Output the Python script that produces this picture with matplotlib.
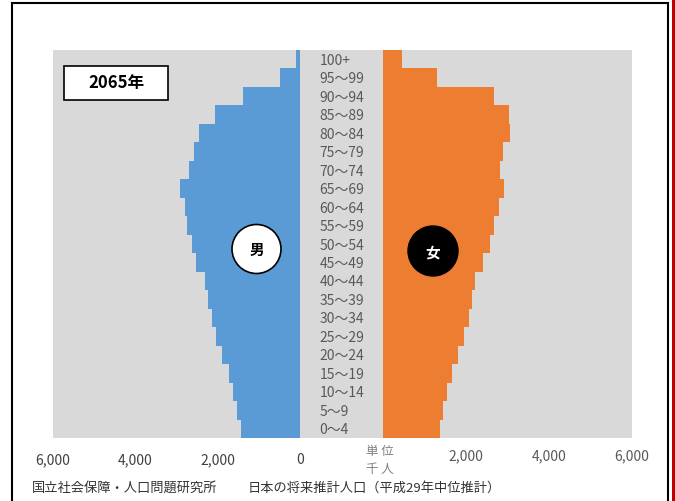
import matplotlib
matplotlib.use("Agg")
import matplotlib.pyplot as plt
from matplotlib.patches import Rectangle, Ellipse
import numpy as np

plt.rcParams['font.family'] = ['Noto Sans CJK JP', 'DejaVu Sans']

ages = ["0〜4", "5〜9", "10〜14", "15〜19", "20〜24", "25〜29", "30〜34", "35〜39",
        "40〜44", "45〜49", "50〜54", "55〜59", "60〜64", "65〜69", "70〜74", "75〜79",
        "80〜84", "85〜89", "90〜94", "95〜99", "100+"]
male = [1441, 1538, 1620, 1732, 1887, 2048, 2145, 2227, 2307, 2518, 2630, 2752,
        2800, 2907, 2690, 2567, 2447, 2065, 1385, 486, 100]
female = [1384, 1450, 1547, 1668, 1814, 1951, 2065, 2137, 2218, 2421, 2567, 2680,
          2793, 2915, 2825, 2890, 3068, 3029, 2664, 1310, 460]
left_ticks = [6000, 4000, 2000, 0]
right_ticks = [2000, 4000, 6000]

W, H = 675, 501
fig = plt.figure(figsize=(W / 100, H / 100), dpi=100)

def fx(px):
    return px / W

def fy(py):
    return 1 - py / H

GRAY = "#d9d9d9"
BLUE = "#5b9bd5"
ORANGE = "#ed7d31"

# frame
fig.add_artist(plt.Line2D([fx(12), fx(12)], [fy(3), 0], transform=fig.transFigure, color="black", lw=1.5))
fig.add_artist(plt.Line2D([fx(12), fx(668)], [fy(3), fy(3)], transform=fig.transFigure, color="black", lw=1.5))
fig.add_artist(plt.Line2D([fx(668), fx(668)], [fy(3), 0], transform=fig.transFigure, color="black", lw=1.5))
fig.add_artist(Rectangle((fx(672), 0), fx(3), 1, transform=fig.transFigure, color="#c00000", lw=0))

# center gray strip
fig.add_artist(Rectangle((fx(299), fy(438)), fx(85), (438 - 50) / H,
                         transform=fig.transFigure, facecolor=GRAY, edgecolor="none", zorder=0))

y = np.arange(len(ages))

axL = fig.add_axes([fx(53), fy(438), fx(247), (438 - 50) / H])
axL.set_facecolor(GRAY)
axL.barh(y, male, height=1.0, color=BLUE, edgecolor="none")
axL.set_xlim(6000, 0)
axL.set_ylim(-0.5, len(ages) - 0.5)
axL.set_xticks(left_ticks)
axL.set_xticklabels([f"{v:,}" for v in left_ticks])
axL.yaxis.tick_right()
axL.set_yticks(y)
axL.set_yticklabels(ages)
for lab in axL.get_yticklabels():
    lab.set_horizontalalignment("left")
axL.tick_params(axis="y", length=0, pad=14, labelsize=10, labelcolor="#595959")
axL.tick_params(axis="x", length=0, pad=11, labelsize=10, labelcolor="#404040")
for s in axL.spines.values():
    s.set_visible(False)

axR = fig.add_axes([fx(383), fy(438), fx(249), (438 - 50) / H])
axR.set_facecolor(GRAY)
axR.barh(y, female, height=1.0, color=ORANGE, edgecolor="none")
axR.set_xlim(0, 6000)
axR.set_ylim(-0.5, len(ages) - 0.5)
axR.set_xticks(right_ticks)
axR.set_xticklabels([f"{v:,}" for v in right_ticks])
axR.set_yticks([])
axR.tick_params(axis="x", length=0, pad=8, labelsize=10, labelcolor="#595959")
for s in axR.spines.values():
    s.set_visible(False)

# unit label
fig.text(fx(380), fy(452), "単 位", ha="center", va="center", fontsize=9, color="#808080")
fig.text(fx(380), fy(469), "千 人", ha="center", va="center", fontsize=9, color="#808080")

# year box
fig.add_artist(Rectangle((fx(64), fy(100)), fx(104), (100 - 66) / H, transform=fig.transFigure,
                         facecolor="white", edgecolor="black", lw=1.2, zorder=5))
fig.text(fx(116), fy(83), "2065年", ha="center", va="center", fontsize=12,
         fontweight="bold", color="black", zorder=6)

# circles
fig.add_artist(Ellipse((fx(256.5), fy(249)), fx(49), 49 / H, transform=fig.transFigure,
                       facecolor="white", edgecolor="black", lw=1.2, zorder=5))
fig.text(fx(256.5), fy(250), "男", ha="center", va="center", fontsize=10.5, fontweight="bold",
         color="black", zorder=6)
fig.add_artist(Ellipse((fx(433), fy(251)), fx(50), 50 / H, transform=fig.transFigure,
                       facecolor="black", edgecolor="black", lw=1, zorder=5))
fig.text(fx(433), fy(252), "女", ha="center", va="center", fontsize=10.5, fontweight="bold",
         color="white", zorder=6)

# footer
fig.text(fx(32), fy(488), "国立社会保障・人口問題研究所", ha="left", va="center", fontsize=9.5, color="#333333")
fig.text(fx(248), fy(488), "日本の将来推計人口（平成29年中位推計）", ha="left", va="center", fontsize=9.5, color="#333333")

fig.savefig("out.png", dpi=100, facecolor="white")
